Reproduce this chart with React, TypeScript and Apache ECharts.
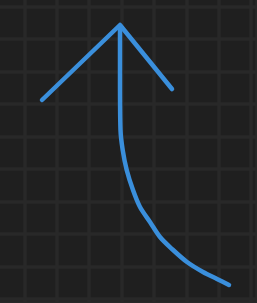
import React, { useEffect, useRef } from "react";
import * as echarts from "echarts";

// arrow head (left tip, apex, right tip) in axis units
const headX = [50, 128, 180];
const headY = [126, 51, 115];
// arrow shaft from apex curving to bottom right
const shaftX = [128, 128, 128.5, 130.7, 134.7, 141, 148, 158, 168, 180, 195, 211, 225, 237];
const shaftY = [53, 106, 156, 176, 196, 216, 233, 248, 263, 275, 288, 298, 305, 311];

export default function App() {
  const ref = useRef<HTMLDivElement>(null);
  useEffect(() => {
    if (!ref.current) return;
    const chart = echarts.init(ref.current, undefined, { renderer: "svg" });
    const stroke = "#3a8fdc";
    chart.setOption({
      animation: false,
      backgroundColor: "#1f1f1f",
      grid: { left: 0, right: 0, top: 0, bottom: 0 },
      xAxis: {
        type: "value",
        min: 0,
        max: 265,
        interval: 32.4,
        axisLine: { show: false },
        axisTick: { show: false },
        axisLabel: { show: false },
        splitLine: { show: true, lineStyle: { color: "#282828", width: 3.5 } },
      },
      yAxis: {
        type: "value",
        inverse: true,
        min: 0,
        max: 329,
        interval: 32.5,
        axisLine: { show: false },
        axisTick: { show: false },
        axisLabel: { show: false },
        splitLine: { show: true, lineStyle: { color: "#282828", width: 3.5 } },
      },
      series: [
        {
          type: "line",
          data: headX.map((x, i) => [x, headY[i]]),
          showSymbol: false,
          lineStyle: { color: stroke, width: 4.5, cap: "round", join: "round" },
        },
        {
          type: "line",
          data: shaftX.map((x, i) => [x, shaftY[i]]),
          showSymbol: false,
          smooth: 0.3,
          lineStyle: { color: stroke, width: 4.5, cap: "round", join: "round" },
        },
      ],
    });
    return () => chart.dispose();
  }, []);
  return (
    <div
      ref={ref}
      style={{ position: "fixed", left: -8, top: -26, width: 265, height: 329 }}
    />
  );
}
